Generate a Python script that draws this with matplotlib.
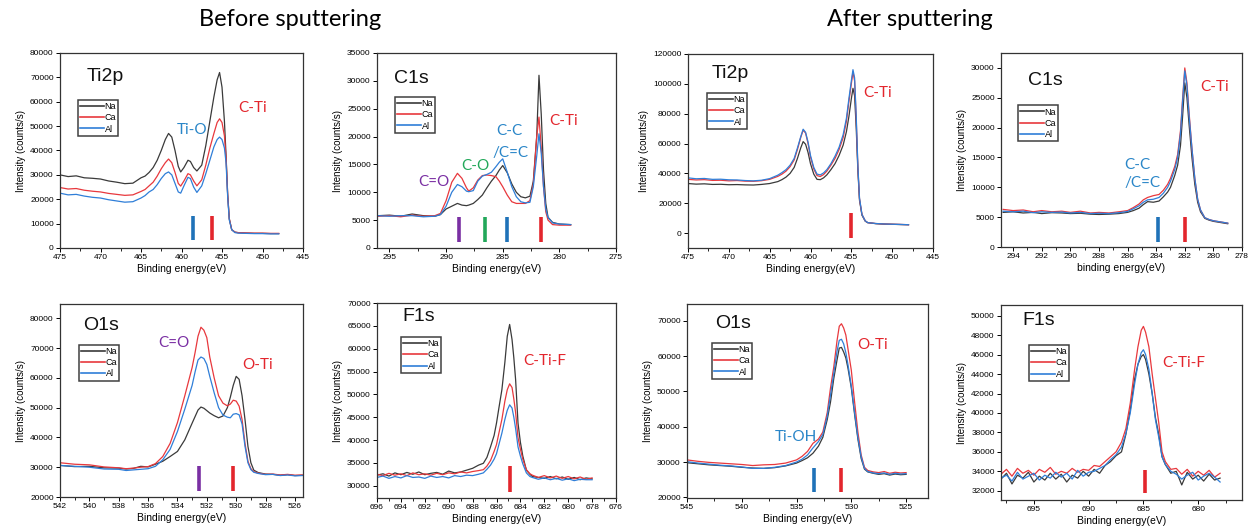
import matplotlib
matplotlib.use("Agg")
import matplotlib.pyplot as plt
from matplotlib.ticker import MultipleLocator

plt.rcParams["font.family"] = ["Liberation Sans", "DejaVu Sans"]

# ---------------- data ----------------
# Ti2p, before sputtering
ti2p_b_x = [475, 474, 473, 472, 471, 470, 469, 468, 467, 466,
            465, 464.5, 464, 463.5, 463, 462.5, 462, 461.6, 461.2, 460.8,
            460.4, 460.1, 459.7, 459.2, 458.9, 458.5, 458.1, 457.5, 457, 456.5,
            456, 455.6, 455.3, 455.0, 454.7, 454.5, 454.3, 454.1, 453.8, 453.4,
            453, 452, 451, 450, 449, 448]
ti2p_b_na = [30000, 29300, 29600, 28800, 28600, 28300, 27500, 27000, 26400, 26600,
             28800, 29500, 31000, 33000, 36000, 40000, 44500, 47000, 45500, 40000,
             33500, 31200, 33000, 36000, 35500, 33000, 31600, 34000, 42000, 52000,
             62000, 69000, 72000, 66000, 52000, 38000, 22000, 12000, 7500, 6500,
             6300, 6100, 6000, 6000, 5900, 5900]
ti2p_b_ca = [24800, 24200, 24400, 23700, 23300, 23000, 22400, 22000, 21600, 21800,
             23200, 24000, 25500, 27000, 29500, 32500, 35000, 36500, 35000, 31000,
             26500, 25400, 27500, 30500, 30000, 27500, 25500, 28000, 34000, 41000,
             47000, 51500, 53000, 51500, 46000, 37000, 22000, 12000, 7500, 6500,
             6300, 6200, 6100, 6100, 6000, 6000]
ti2p_b_al = [22500, 21800, 22000, 21300, 20800, 20500, 19800, 19300, 18800, 19000,
             20500, 21500, 23000, 24000, 26000, 28500, 30500, 31200, 30000, 26500,
             23000, 22500, 25500, 29000, 28500, 25000, 22800, 25500, 30500, 36000,
             41500, 44500, 45500, 44500, 41000, 35000, 21000, 11500, 7500, 6300,
             6100, 6000, 5900, 5900, 5800, 5800]

# C1s, before sputtering
c1s_b_x = [296, 295, 294, 293, 292, 291, 290.5,
           290, 289.5, 289, 288.6, 288.2, 288, 287.6, 287.2, 286.8, 286.4,
           286, 285.6, 285.3, 285, 284.6, 284.2, 283.8, 283.4, 283, 282.6,
           282.3, 282, 281.8, 281.6, 281.4, 281.2, 281, 280.6, 280, 279]
c1s_b_na = [5800, 5900, 5700, 6100, 5800, 5700, 6000,
            7000, 7500, 8000, 7700, 7600, 7700, 8000, 8700, 9500, 10800,
            12000, 13000, 14000, 14800, 13500, 11500, 10000, 9200, 9000, 9300,
            12000, 20000, 31000, 24000, 14000, 8000, 5500, 4600, 4300, 4200]
c1s_b_ca = [5700, 5800, 5600, 5900, 5700, 5800, 6200,
            8500, 11800, 13400, 12500, 10800, 10200, 10800, 12200, 13000, 13100,
            13000, 12800, 12000, 11000, 9500, 8300, 8000, 8000, 8000, 8500,
            11500, 20000, 23500, 18000, 11000, 6500, 5000, 4200, 4100, 4100]
c1s_b_al = [5800, 5700, 5800, 5800, 5600, 5700, 6000,
            7500, 10000, 11400, 11000, 10200, 10100, 10300, 12000, 12900, 13200,
            13600, 14600, 15400, 16000, 13600, 11000, 9200, 8300, 8100, 8200,
            11000, 16500, 20500, 17000, 11000, 7000, 5500, 4500, 4300, 4200]

# Ti2p, after sputtering
ti2p_a_x = [475, 474, 473, 472, 471, 470, 469, 468, 467, 466,
            465, 464, 463.5, 463, 462.5, 462, 461.6, 461.2, 460.9, 460.6,
            460.3, 460, 459.6, 459.2, 458.8, 458.4, 458, 457.5, 457, 456.5,
            456, 455.6, 455.3, 455, 454.8, 454.6, 454.4, 454.2, 454, 453.7,
            453.3, 453, 452, 451, 450, 449, 448]
ti2p_a_na = [33200, 32800, 33000, 32600, 32700, 32400, 32500, 32300, 32200, 32600,
             33200, 34500, 35800, 37500, 40000, 44000, 50000, 57000, 61300, 59500,
             54000, 46500, 39500, 36000, 35800, 37000, 39000, 42500, 46500, 52000,
             59000, 68000, 78000, 90000, 97000, 92000, 70000, 42000, 22000, 12000,
             8000, 7000, 6300, 6000, 5900, 5700, 5600]
ti2p_a_ca = [36000, 35600, 35800, 35300, 35400, 35000, 35200, 34800, 34700, 35100,
             36000, 38000, 39500, 41500, 44500, 49000, 56000, 64000, 69000, 67000,
             60000, 51000, 43000, 38500, 37900, 39200, 41500, 45500, 50000, 56000,
             64000, 75000, 88000, 100000, 108000, 102000, 76000, 44000, 23000, 12500,
             8200, 7000, 6400, 6100, 5900, 5800, 5600]
ti2p_a_al = [37000, 36400, 36600, 36000, 36100, 35700, 35600, 35200, 35000, 35400,
             36500, 38800, 40500, 42500, 45500, 50000, 57000, 64500, 69600, 67500,
             61000, 52000, 44000, 39500, 39000, 40300, 42500, 46500, 51500, 57500,
             66000, 77000, 90000, 102000, 109500, 104000, 78000, 45000, 23500, 12500,
             8200, 7000, 6400, 6100, 5900, 5800, 5600]

# C1s, after sputtering
c1s_a_x = [294.7, 294, 293.3, 292.6, 292, 291.3, 290.6, 290, 289.3, 288.6,
           288, 287.3, 286.6, 286, 285.6, 285.2, 284.9, 284.6, 284.2, 283.8,
           283.5, 283.2, 283, 282.7, 282.5, 282.3, 282.15, 282, 281.85, 281.7,
           281.5, 281.3, 281.1, 280.9, 280.6, 280.3, 280, 279.5, 279]
c1s_a_na = [5800, 5900, 5700, 5800, 5600, 5750, 5700, 5600, 5650, 5500,
            5450, 5500, 5600, 5800, 6100, 6500, 7100, 7600, 7500, 7700,
            8400, 9200, 10000, 12000, 13700, 17000, 22000, 27500, 25000, 20500,
            15000, 10500, 7500, 5900, 4800, 4500, 4300, 4100, 3900]
c1s_a_ca = [6300, 6100, 6200, 5900, 6100, 5900, 6000, 5800, 6000, 5700,
            5800, 5700, 5900, 6100, 6600, 7200, 7900, 8300, 8600, 8800,
            9500, 10500, 11500, 13500, 15500, 19500, 25000, 30000, 27500, 22500,
            16500, 11500, 8000, 6200, 4900, 4600, 4400, 4200, 4000]
c1s_a_al = [6000, 5900, 6000, 5750, 5900, 5800, 5850, 5700, 5800, 5600,
            5650, 5600, 5750, 5950, 6400, 6900, 7500, 7900, 8000, 8300,
            9000, 10000, 11000, 13000, 15000, 19000, 24500, 29500, 27000, 22000,
            16500, 11500, 8000, 6200, 4900, 4600, 4400, 4200, 4000]

# O1s, before sputtering
o1s_b_x = [542, 541, 540, 539, 538, 537.5, 537, 536.5, 536, 535.5,
           535, 534.5, 534, 533.5, 533, 532.8, 532.6, 532.4, 532.2, 532,
           531.8, 531.5, 531.2, 530.9, 530.6, 530.4, 530.2, 530, 529.8, 529.6,
           529.4, 529.2, 529, 528.8, 528.5, 528, 527.5, 527, 526.5, 526,
           525.5]
o1s_b_na = [30600, 30200, 30300, 29800, 29700, 29400, 29600, 30300, 30100, 31000,
            32000, 33600, 35300, 39200, 44800, 47000, 49200, 50200, 49800, 49000,
            48200, 47300, 46600, 47200, 50000, 53500, 57500, 60500, 59500, 54000,
            46000, 37000, 31500, 29000, 28200, 27700, 27600, 27300, 27500, 27200,
            27300]
o1s_b_ca = [31500, 31000, 30800, 30100, 29800, 29500, 29700, 30000, 30200, 31200,
            33600, 38000, 45000, 54000, 63500, 68500, 74000, 77000, 76000, 73500,
            67000, 60000, 54000, 51500, 50600, 51200, 52500, 52200, 50500, 46000,
            38000, 32000, 29500, 28500, 28000, 27600, 27700, 27400, 27600, 27300,
            27400]
o1s_b_al = [30600, 30300, 30000, 29400, 29300, 28900, 29100, 29300, 29500, 30300,
            32500, 36000, 42000, 49500, 57500, 62000, 66000, 67000, 66500, 64500,
            60500, 55000, 50000, 47500, 46800, 46600, 47800, 48000, 47600, 44500,
            37000, 31500, 29200, 28300, 27900, 27500, 27600, 27200, 27400, 27100,
            27200]

# F1s, before sputtering
f1s_b_x = [696, 695.5, 695, 694.5, 694, 693.5, 693, 692.5, 692, 691.5,
           691, 690.5, 690, 689.5, 689, 688.5, 688, 687.5, 687.1, 686.8,
           686.5, 686.2, 686, 685.8, 685.55, 685.3, 685.1, 684.9, 684.7, 684.55,
           684.4, 684.2, 684, 683.8, 683.5, 683.2, 683, 682.5, 682, 681.5,
           681, 680.5, 680, 679.5, 679, 678.5, 678]
f1s_b_na = [32300, 32600, 32100, 32800, 32400, 32900, 32500, 33000, 32400, 32700,
            32900, 32500, 33200, 32800, 33000, 33400, 33800, 34500, 34900, 36200,
            38500, 41000, 43700, 47000, 51000, 57000, 62700, 65300, 62000, 58000,
            53200, 43700, 39500, 36500, 33400, 32500, 32000, 31800, 31600, 32000,
            31500, 31900, 31400, 31800, 31300, 31700, 31500]
f1s_b_ca = [32500, 32200, 32700, 32300, 32600, 32200, 32800, 32400, 32600, 32300,
            32700, 32400, 32800, 32600, 33000, 32800, 33100, 33300, 33500, 34300,
            35500, 37500, 39000, 41500, 44500, 48500, 51000, 52300, 51500, 49000,
            46000, 40500, 38000, 35800, 33500, 32600, 32300, 31800, 32200, 31700,
            32100, 31600, 32000, 31500, 31900, 31400, 31700]
f1s_b_al = [31800, 32100, 31600, 32000, 31700, 32200, 31800, 31900, 31600, 32100,
            31800, 32000, 31700, 32200, 32000, 32300, 32200, 32500, 32800, 33600,
            34500, 35800, 37000, 39000, 41500, 44500, 46500, 47700, 47000, 45000,
            42500, 38500, 36500, 34800, 32800, 32000, 31800, 31400, 31700, 31300,
            31600, 31200, 31500, 31100, 31400, 31300, 31300]

# O1s, after sputtering
o1s_a_x = [545, 544, 543, 542, 541, 540, 539, 538, 537, 536,
           535, 534.5, 534, 533.5, 533, 532.6, 532.2, 531.9, 531.6, 531.3,
           531.1, 530.9, 530.7, 530.5, 530.3, 530, 529.7, 529.4, 529.1, 528.8,
           528.5, 528, 527.5, 527, 526.5, 526, 525.5, 525]
o1s_a_na = [29800, 29500, 29200, 29000, 28800, 28500, 28300, 28200, 28400, 28900,
            29700, 30400, 31200, 32500, 34500, 37000, 42000, 47000, 53700, 59000,
            62300, 62500, 61200, 59500, 56500, 51000, 43500, 36500, 31000, 28000,
            27200, 26800, 26500, 26700, 26300, 26600, 26400, 26500]
o1s_a_ca = [30600, 30200, 29900, 29700, 29500, 29300, 29000, 29200, 29300, 29700,
            30600, 31600, 33000, 35300, 36500, 38500, 44000, 51000, 57000, 64500,
            68500, 69200, 68000, 66000, 62000, 56000, 47000, 38500, 32000, 28500,
            27600, 27200, 27000, 27300, 26800, 27100, 26900, 27000]
o1s_a_al = [30100, 29700, 29400, 29100, 28900, 28600, 28200, 28200, 28500, 29000,
            30000, 30800, 32000, 34000, 35800, 37800, 43000, 49000, 55200, 61500,
            64500, 64800, 63500, 61000, 57500, 51500, 44000, 37000, 31500, 28200,
            27300, 26900, 26700, 26900, 26500, 26800, 26600, 26700]

# F1s, after sputtering
f1s_a_x = [698, 697.5, 697, 696.5, 696, 695.5, 695, 694.5, 694, 693.5,
           693, 692.5, 692, 691.5, 691, 690.5, 690, 689.5, 689, 688.5,
           688, 687.5, 687, 686.6, 686.2, 685.8, 685.5, 685.2, 685, 684.8,
           684.5, 684.2, 683.9, 683.6, 683.3, 683, 682.5, 682, 681.5, 681,
           680.5, 680, 679.5, 679, 678.5, 678]
f1s_a_na = [33200, 33800, 32700, 33600, 33300, 33900, 32900, 33500, 33100, 33800,
            33200, 33700, 32900, 33600, 33300, 34000, 33500, 34200, 33800, 34600,
            35000, 35600, 36000, 37800, 40300, 43500, 45000, 45800, 46000, 45500,
            44000, 42000, 39500, 37800, 35500, 34700, 33800, 34000, 32600, 33900,
            33200, 33600, 33000, 33700, 33100, 33300]
f1s_a_ca = [33700, 34200, 33500, 34300, 33800, 34100, 33600, 34200, 33900, 34400,
            33700, 34000, 33800, 34300, 33900, 34200, 34100, 34600, 34500, 35000,
            35500, 36000, 37000, 38400, 41000, 44500, 46800, 48500, 48900, 48300,
            46800, 44000, 41500, 39000, 36000, 35000, 34200, 34300, 33700, 34200,
            33500, 34000, 33600, 34100, 33400, 33800]
f1s_a_al = [33300, 33600, 33000, 33900, 33200, 33500, 33800, 33100, 33600, 33300,
            33900, 33400, 33800, 33200, 34100, 33500, 33900, 34000, 34300, 34600,
            35200, 35700, 36500, 37900, 40000, 43000, 45000, 46200, 46500, 46000,
            44500, 42000, 39300, 37500, 35500, 34700, 34000, 33700, 33200, 33600,
            33900, 33100, 33500, 33800, 33400, 32900]

series_labels = ["Na", "Ca", "Al"]

# ---------------- styling ----------------
W, H = 1250, 531
NA_C, CA_C, AL_C = "#3a3a3a", "#e8383d", "#2f7ed8"
RED, BLUE, PURPLE, GREEN = "#e3262d", "#1f72b8", "#7a2fa3", "#22a85a"
TXT_BLUE = "#2a86c8"


def box(l, t, r, b):
    return [l / W, 1 - b / H, (r - l) / W, (b - t) / H]


panels = [
    dict(rect=box(60, 53, 303, 248), x=ti2p_b_x, ys=(ti2p_b_na, ti2p_b_ca, ti2p_b_al),
         xlim=(475, 445), ylim=(0, 80000), xstep=5, ystep=10000,
         name="Ti2p", name_pos=(0.11, 0.88), leg=(0.074, 0.76),
         bars=[(458.6, BLUE), (456.2, RED)], bar_y=(3300, 13300),
         notes=[(460.6, 48400, "Ti-O", TXT_BLUE), (453.0, 57400, "C-Ti", RED)],
         xlabel="Binding energy(eV)"),
    dict(rect=box(377, 53, 616, 248), x=c1s_b_x, ys=(c1s_b_na, c1s_b_ca, c1s_b_al),
         xlim=(296.1, 275), ylim=(0, 35000), xstep=5, ystep=5000,
         name="C1s", name_pos=(0.07, 0.87), leg=(0.075, 0.775),
         bars=[(288.9, PURPLE), (286.6, GREEN), (284.6, BLUE), (281.6, RED)], bar_y=(1100, 5600),
         notes=[(292.5, 11900, "C=O", PURPLE), (288.7, 14700, "C-O", GREEN),
                (285.6, 21000, "C-C", TXT_BLUE), (285.9, 17100, "/C=C", TXT_BLUE),
                (280.9, 22800, "C-Ti", RED)],
         xlabel="Binding energy(eV)"),
    dict(rect=box(688, 54, 933, 248), x=ti2p_a_x, ys=(ti2p_a_na, ti2p_a_ca, ti2p_a_al),
         xlim=(475, 445), ylim=(-10000, 120000), xstep=5, ystep=20000,
         name="Ti2p", name_pos=(0.095, 0.9), leg=(0.078, 0.8),
         bars=[(455.1, RED)], bar_y=(-3300, 13400),
         notes=[(453.6, 93900, "C-Ti", RED)],
         xlabel="Binding energy(eV)"),
    dict(rect=box(1001, 53, 1242, 247), x=c1s_a_x, ys=(c1s_a_na, c1s_a_ca, c1s_a_al),
         xlim=(294.85, 278), ylim=(0, 32500), xstep=2, ystep=5000,
         name="C1s", name_pos=(0.11, 0.86), leg=(0.07, 0.73),
         bars=[(283.9, BLUE), (282.0, RED)], bar_y=(840, 5000),
         notes=[(286.2, 13700, "C-C", TXT_BLUE), (286.2, 10700, "/C=C", TXT_BLUE),
                (280.9, 26800, "C-Ti", RED)],
         xlabel="binding energy(eV)"),
    dict(rect=box(60, 304, 303, 497), x=o1s_b_x, ys=(o1s_b_na, o1s_b_ca, o1s_b_al),
         xlim=(542, 525.45), ylim=(20000, 84800), xstep=2, ystep=10000,
         name="O1s", name_pos=(0.095, 0.89), leg=(0.078, 0.79),
         bars=[(532.5, PURPLE), (530.2, RED)], bar_y=(21900, 30300),
         notes=[(535.3, 71700, "C=O", PURPLE), (529.6, 64300, "O-Ti", RED)],
         xlabel="Binding energy(eV)"),
    dict(rect=box(377, 303, 616, 498), x=f1s_b_x, ys=(f1s_b_na, f1s_b_ca, f1s_b_al),
         xlim=(696, 676), ylim=(27300, 70000), xstep=2, ystep=5000,
         name="F1s", name_pos=(0.105, 0.93), leg=(0.1, 0.826),
         bars=[(684.9, RED)], bar_y=(28700, 34200),
         notes=[(683.8, 57300, "C-Ti-F", RED)],
         xlabel="Binding energy(eV)"),
    dict(rect=box(687, 304, 928, 498), x=o1s_a_x, ys=(o1s_a_na, o1s_a_ca, o1s_a_al),
         xlim=(545, 523), ylim=(19800, 74800), xstep=5, ystep=10000,
         name="O1s", name_pos=(0.115, 0.9), leg=(0.104, 0.8),
         bars=[(533.4, BLUE), (530.9, RED)], bar_y=(21600, 28200),
         notes=[(529.5, 63200, "O-Ti", RED), (537.0, 37100, "Ti-OH", TXT_BLUE)],
         xlabel="Binding energy(eV)"),
    dict(rect=box(1001, 305, 1242, 500), x=f1s_a_x, ys=(f1s_a_na, f1s_a_ca, f1s_a_al),
         xlim=(698, 676), ylim=(31050, 51100), xstep=5, ystep=2000,
         name="F1s", name_pos=(0.09, 0.92), leg=(0.116, 0.795),
         bars=[(684.9, RED)], bar_y=(31730, 34130),
         notes=[(683.3, 45100, "C-Ti-F", RED)],
         xlabel="Binding energy(eV)"),
]

fig = plt.figure(figsize=(12.5, 5.31), dpi=100)

for p in panels:
    ax = fig.add_axes(p["rect"])
    for ys, lab, col in zip(p["ys"], series_labels, (NA_C, CA_C, AL_C)):
        ax.plot(p["x"], ys, color=col, lw=0.9, label=lab)
    for bx, bc in p["bars"]:
        ax.vlines(bx, p["bar_y"][0], p["bar_y"][1], colors=bc, lw=2.6)
    for tx, ty, s, c in p["notes"]:
        ax.text(tx, ty, s, color=c, fontsize=11, family=["Lato", "DejaVu Sans"],
                ha="left", va="center")
    ax.text(p["name_pos"][0], p["name_pos"][1], p["name"], transform=ax.transAxes,
            fontsize=14, ha="left", va="center", color="#111111")

    ax.set_xlim(*p["xlim"])
    ax.set_ylim(*p["ylim"])
    ax.xaxis.set_major_locator(MultipleLocator(p["xstep"]))
    ax.xaxis.set_minor_locator(MultipleLocator(p["xstep"] / 2))
    ax.yaxis.set_major_locator(MultipleLocator(p["ystep"]))
    ax.tick_params(axis="both", which="major", labelsize=6, direction="out",
                   length=3, width=0.7, pad=1.5)
    ax.tick_params(axis="x", which="minor", direction="out", length=1.8, width=0.6)
    for sp in ax.spines.values():
        sp.set_linewidth(0.9)
        sp.set_color("#333333")
    ax.set_xlabel(p["xlabel"], fontsize=7.5, labelpad=2)
    ax.set_ylabel("Intensity (counts/s)", fontsize=7, labelpad=3)

    leg = ax.legend(loc="upper left", bbox_to_anchor=p["leg"], fontsize=6.5,
                    frameon=True, fancybox=False, handlelength=2.6,
                    handletextpad=0.1, borderpad=0.25, labelspacing=0.25,
                    borderaxespad=0)
    leg.get_frame().set_edgecolor("#111111")
    leg.get_frame().set_linewidth(1.1)
    for line in leg.get_lines():
        line.set_linewidth(1.2)

fig.text(290 / W, 1 - 20 / H, "Before sputtering", ha="center", va="center",
         fontsize=17, family=["Lato", "DejaVu Sans"])
fig.text(910 / W, 1 - 20 / H, "After sputtering", ha="center", va="center",
         fontsize=17, family=["Lato", "DejaVu Sans"])

fig.savefig("out.png", dpi=100)
